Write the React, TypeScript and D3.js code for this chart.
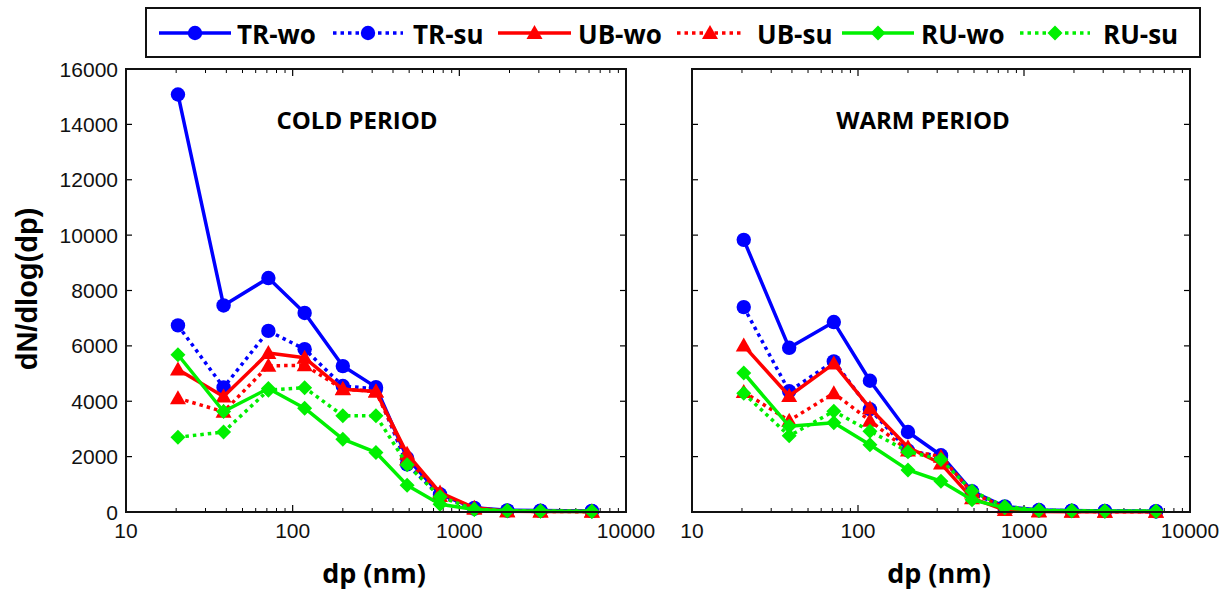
import React from "react";
import * as d3 from "d3";

const dp = [20.5, 38.5, 71.5, 118, 200, 316, 486, 766, 1230, 1940, 3070, 6240];

const seriesNames = ["TR-wo", "TR-su", "UB-wo", "UB-su", "RU-wo", "RU-su"];

const coldTRwo = [15080, 7460, 8450, 7190, 5270, 4510, 1950, 640, 150, 60, 50, 40];
const coldTRsu = [6740, 4500, 6540, 5880, 4550, 4450, 1720, 580, 120, 50, 40, 30];
const coldUBwo = [5150, 4170, 5740, 5570, 4430, 4350, 2100, 700, 150, 30, 20, 20];
const coldUBsu = [4110, 3620, 5280, 5300, 4440, 4350, 1900, 580, 120, 30, 20, 10];
const coldRUwo = [5680, 3630, 4460, 3750, 2630, 2150, 970, 280, 90, 40, 30, 20];
const coldRUsu = [2700, 2890, 4400, 4490, 3480, 3480, 1710, 550, 100, 50, 40, 30];

const warmTRwo = [9830, 5930, 6860, 4740, 2890, 2050, 750, 200, 70, 50, 40, 30];
const warmTRsu = [7400, 4360, 5440, 3710, 2220, 2000, 700, 160, 60, 40, 30, 20];
const warmUBwo = [6010, 4190, 5360, 3750, 2340, 1750, 500, 70, 20, 10, 10, 10];
const warmUBsu = [4330, 3300, 4290, 3300, 2220, 2000, 700, 150, 40, 20, 10, 10];
const warmRUwo = [5020, 3100, 3220, 2430, 1520, 1110, 440, 150, 50, 40, 30, 30];
const warmRUsu = [4290, 2750, 3640, 2920, 2180, 1900, 760, 200, 70, 50, 40, 30];

const yTicks = [0, 2000, 4000, 6000, 8000, 10000, 12000, 14000, 16000];
const xTicks = [10, 100, 1000, 10000];

const panelTitles = ["COLD PERIOD", "WARM PERIOD"];

const colors = ["#0000ff", "#0000ff", "#ff0000", "#ff0000", "#00f000", "#00f000"];
const dashed = [false, true, false, true, false, true];
const markerKinds = ["circle", "circle", "triangle", "triangle", "diamond", "diamond"];

const coldData = [coldTRwo, coldTRsu, coldUBwo, coldUBsu, coldRUwo, coldRUsu];
const warmData = [warmTRwo, warmTRsu, warmUBwo, warmUBsu, warmRUwo, warmRUsu];

const TOP = 69;
const BOTTOM = 512;
const panels = [
  { x0: 126, x1: 626, data: coldData, title: panelTitles[0], titleX: 357, showY: true, labelX: 374 },
  { x0: 692, x1: 1190, data: warmData, title: panelTitles[1], titleX: 923, showY: false, labelX: 939 },
];

function Marker({ kind, x, y, color }: { kind: string; x: number; y: number; color: string }) {
  if (kind === "circle") return <circle cx={x} cy={y} r={7.2} fill={color} />;
  if (kind === "triangle") {
    const s = 8;
    return <path d={`M${x},${y - s}L${x + s},${y + s * 0.75}L${x - s},${y + s * 0.75}Z`} fill={color} />;
  }
  const s = 7.5;
  return <path d={`M${x},${y - s}L${x + s},${y}L${x},${y + s}L${x - s},${y}Z`} fill={color} />;
}

function Panel({ p }: { p: (typeof panels)[number] }) {
  const x = d3.scaleLog().domain([10, 10000]).range([p.x0, p.x1]);
  const y = d3.scaleLinear().domain([0, 16000]).range([BOTTOM, TOP]);
  const line = d3
    .line<number>()
    .x((_, i) => x(dp[i]))
    .y((v) => y(v));
  const minor: number[] = [];
  for (let dec = 10; dec < 10000; dec *= 10) for (let k = 2; k <= 9; k++) minor.push(dec * k);
  return (
    <g>
      {yTicks.map((t) => (
        <g key={"y" + t}>
          <line x1={p.x0} x2={p.x0 + 6} y1={y(t)} y2={y(t)} stroke="#000" strokeWidth={1.2} />
          <line x1={p.x1} x2={p.x1 - 6} y1={y(t)} y2={y(t)} stroke="#000" strokeWidth={1.2} />
          {p.showY && (
            <text x={p.x0 - 8} y={y(t)} dy="0.36em" textAnchor="end" fontFamily="Liberation Sans, Arial" fontSize={21} fill="#111">
              {t}
            </text>
          )}
        </g>
      ))}
      {xTicks.map((t) => (
        <g key={"x" + t}>
          <line x1={x(t)} x2={x(t)} y1={BOTTOM} y2={BOTTOM - 7} stroke="#000" strokeWidth={1.2} />
          <line x1={x(t)} x2={x(t)} y1={TOP} y2={TOP + 7} stroke="#000" strokeWidth={1.2} />
          <text x={x(t)} y={538} textAnchor="middle" fontFamily="Liberation Sans, Arial" fontSize={21} fill="#111">
            {t}
          </text>
        </g>
      ))}
      {minor.map((t) => (
        <g key={"m" + t}>
          <line x1={x(t)} x2={x(t)} y1={BOTTOM} y2={BOTTOM - 4} stroke="#000" strokeWidth={1} />
          <line x1={x(t)} x2={x(t)} y1={TOP} y2={TOP + 4} stroke="#000" strokeWidth={1} />
        </g>
      ))}
      <text x={p.titleX} y={129} textAnchor="middle" fontFamily="Open Sans" fontWeight="bold" fontSize={24} fill="#000">
        {p.title}
      </text>
      {p.data.map((vals, si) => (
        <g key={"s" + si}>
          <path
            d={line(vals) || ""}
            fill="none"
            stroke={colors[si]}
            strokeWidth={3.5}
            strokeDasharray={dashed[si] ? "3.5 4" : undefined}
            strokeLinejoin="round"
          />
          {vals.map((v, i) => (
            <Marker key={i} kind={markerKinds[si]} x={x(dp[i])} y={y(v)} color={colors[si]} />
          ))}
        </g>
      ))}
      <rect x={p.x0} y={TOP} width={p.x1 - p.x0} height={BOTTOM - TOP} fill="none" stroke="#111" strokeWidth={2} />
      <text x={p.labelX} y={583} textAnchor="middle" fontFamily="Open Sans" fontWeight="bold" fontSize={27} fill="#000">
        dp (nm)
      </text>
    </g>
  );
}

const legendLayout = [
  { l0: 159, l1: 231, tx: 237 },
  { l0: 333, l1: 403, tx: 413 },
  { l0: 498, l1: 571, tx: 578 },
  { l0: 677, l1: 743, tx: 757 },
  { l0: 842, l1: 914, tx: 921 },
  { l0: 1020, l1: 1090, tx: 1103 },
];

export default function App() {
  return (
    <svg width={1226} height={590} style={{ position: "absolute", left: 0, top: 0, background: "#fff" }}>
      <rect width={1226} height={590} fill="#fff" />
      {panels.map((p, i) => (
        <Panel key={i} p={p} />
      ))}
      <text
        transform="translate(37,289) rotate(-90)"
        textAnchor="middle"
        fontFamily="Liberation Sans, Arial"
        fontWeight="bold"
        fontSize={29}
        fill="#000"
      >
        dN/dlog(dp)
      </text>
      <rect x={146} y={8} width={1054} height={49} fill="#fff" stroke="#111" strokeWidth={2} />
      {seriesNames.map((name, i) => {
        const L = legendLayout[i];
        return (
          <g key={name}>
            <line
              x1={L.l0}
              x2={L.l1}
              y1={33}
              y2={33}
              stroke={colors[i]}
              strokeWidth={3.5}
              strokeDasharray={dashed[i] ? "3.5 4" : undefined}
            />
            <Marker kind={markerKinds[i]} x={(L.l0 + L.l1) / 2} y={33} color={colors[i]} />
            <text x={L.tx} y={44} fontFamily="Open Sans" fontWeight="bold" fontSize={26} fill="#000">
              {name}
            </text>
          </g>
        );
      })}
    </svg>
  );
}
